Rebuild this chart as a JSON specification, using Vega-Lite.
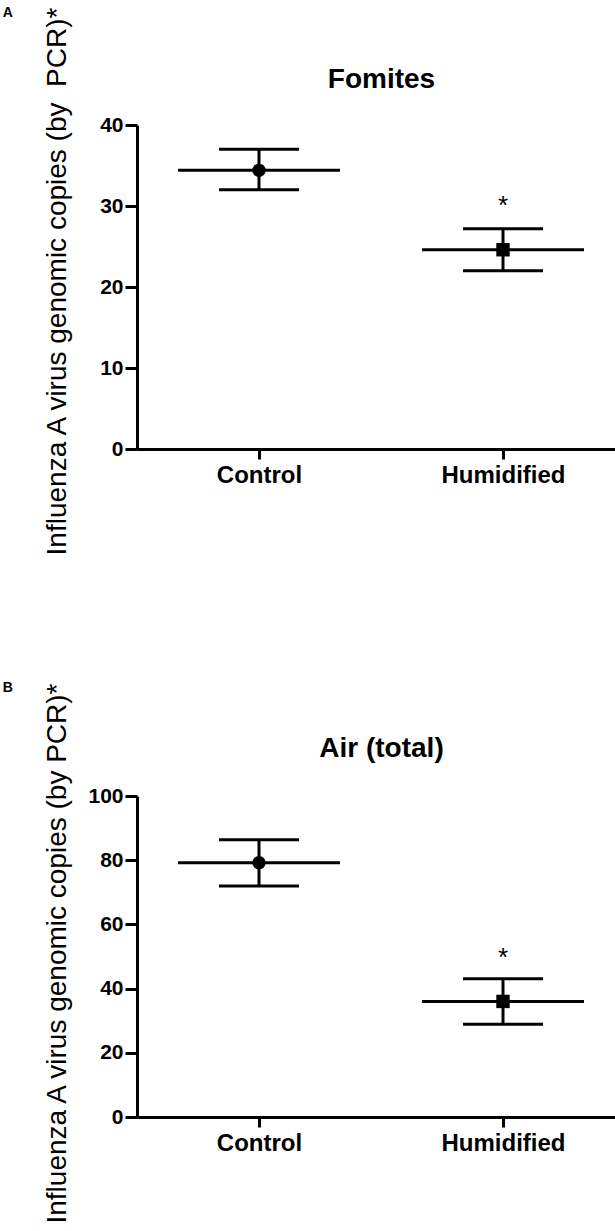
{
  "$schema": "https://vega.github.io/schema/vega-lite/v6.json",
  "background": "white",
  "padding": {"left": 2, "top": 5, "right": 0, "bottom": 0},
  "spacing": 124,
  "config": {"font": "Liberation Sans", "view": {"stroke": null}},
  "vconcat": [
    {
      "width": 488,
      "height": 324,
      "title": {"text": "A", "orient": "left", "anchor": "end", "angle": 0, "align": "right", "baseline": "top", "fontSize": 14, "fontWeight": "bold", "color": "black", "offset": 20, "frame": "bounds"},
      "data": {"values": [
        {"group": "Control", "mean": 34.4, "upper": 37.0, "lower": 32.0, "sig": ""},
        {"group": "Humidified", "mean": 24.6, "upper": 27.2, "lower": 22.0, "sig": "*"}
      ]},
      "resolve": {"axis": {"x": "independent", "y": "independent"}},
      "layer": [
        {
          "mark": {"type": "tick", "size": 162, "thickness": 3, "color": "black", "opacity": 1},
          "encoding": {
            "x": {"field": "group", "type": "nominal", "sort": ["Control", "Humidified"], "scale": {"type": "point", "padding": 0.5},
              "axis": {"title": null, "labelAngle": 0, "domainColor": "black", "domainWidth": 3, "tickColor": "black", "tickWidth": 3, "tickSize": 10, "labelFontSize": 24, "labelFontWeight": "bold", "labelColor": "black", "labelPadding": 4, "grid": false}},
            "y": {"field": "mean", "type": "quantitative", "scale": {"domain": [0, 40], "nice": false, "zero": true},
              "axis": {"title": "Influenza A virus genomic copies (by \u00a0PCR)*", "values": [0, 10, 20, 30, 40], "grid": false, "domainColor": "black", "domainWidth": 3, "tickColor": "black", "tickWidth": 3, "tickSize": 12, "labelFontSize": 21, "labelFontWeight": "bold", "labelColor": "black", "labelPadding": 2, "titleFontSize": 28, "titleFontWeight": "normal", "titleColor": "black", "titleX": -72, "titleY": 156, "titleBaseline": "alphabetic", "titleAnchor": "middle"}}
          }
        },
        {
          "mark": {"type": "tick", "size": 80, "thickness": 3, "color": "black", "opacity": 1},
          "encoding": {
            "x": {"field": "group", "type": "nominal", "sort": ["Control", "Humidified"], "scale": {"type": "point", "padding": 0.5}, "axis": null},
            "y": {"field": "upper", "type": "quantitative", "scale": {"domain": [0, 40], "nice": false}, "axis": null}
          }
        },
        {
          "mark": {"type": "tick", "size": 80, "thickness": 3, "color": "black", "opacity": 1},
          "encoding": {
            "x": {"field": "group", "type": "nominal", "sort": ["Control", "Humidified"], "scale": {"type": "point", "padding": 0.5}, "axis": null},
            "y": {"field": "lower", "type": "quantitative", "scale": {"domain": [0, 40], "nice": false}, "axis": null}
          }
        },
        {
          "mark": {"type": "rule", "strokeWidth": 3, "color": "black"},
          "encoding": {
            "x": {"field": "group", "type": "nominal", "sort": ["Control", "Humidified"], "scale": {"type": "point", "padding": 0.5}, "axis": null},
            "y": {"field": "lower", "type": "quantitative", "scale": {"domain": [0, 40], "nice": false}, "axis": null},
            "y2": {"field": "upper"}
          }
        },
        {
          "mark": {"type": "point", "filled": true, "size": 180, "color": "black", "opacity": 1},
          "encoding": {
            "x": {"field": "group", "type": "nominal", "sort": ["Control", "Humidified"], "scale": {"type": "point", "padding": 0.5},
              "axis": {"orient": "top", "domain": false, "ticks": false, "labels": false, "grid": false, "title": "Fomites", "titleFontSize": 28, "titleFontWeight": "bold", "titleColor": "black", "titleBaseline": "alphabetic", "titleY": -38}},
            "y": {"field": "mean", "type": "quantitative", "scale": {"domain": [0, 40], "nice": false}, "axis": null},
            "shape": {"field": "group", "type": "nominal", "scale": {"domain": ["Control", "Humidified"], "range": ["circle", "square"]}, "legend": null}
          }
        },
        {
          "mark": {"type": "text", "fontSize": 26, "color": "black", "baseline": "alphabetic", "dy": -15},
          "encoding": {
            "x": {"field": "group", "type": "nominal", "sort": ["Control", "Humidified"], "scale": {"type": "point", "padding": 0.5}, "axis": null},
            "y": {"field": "upper", "type": "quantitative", "scale": {"domain": [0, 40], "nice": false}, "axis": null},
            "text": {"field": "sig"}
          }
        }
      ]
    },
    {
      "width": 488,
      "height": 321,
      "title": {"text": "B", "orient": "left", "anchor": "end", "angle": 0, "align": "right", "baseline": "top", "fontSize": 14, "fontWeight": "bold", "color": "black", "offset": 20, "frame": "bounds"},
      "data": {"values": [
        {"group": "Control", "mean": 79.2, "upper": 86.4, "lower": 72.0, "sig": ""},
        {"group": "Humidified", "mean": 36.0, "upper": 43.1, "lower": 28.9, "sig": "*"}
      ]},
      "resolve": {"axis": {"x": "independent", "y": "independent"}},
      "layer": [
        {
          "mark": {"type": "tick", "size": 162, "thickness": 3, "color": "black", "opacity": 1},
          "encoding": {
            "x": {"field": "group", "type": "nominal", "sort": ["Control", "Humidified"], "scale": {"type": "point", "padding": 0.5},
              "axis": {"title": null, "labelAngle": 0, "domainColor": "black", "domainWidth": 3, "tickColor": "black", "tickWidth": 3, "tickSize": 10, "labelFontSize": 24, "labelFontWeight": "bold", "labelColor": "black", "labelPadding": 4, "grid": false}},
            "y": {"field": "mean", "type": "quantitative", "scale": {"domain": [0, 100], "nice": false, "zero": true},
              "axis": {"title": "Influenza A virus genomic copies (by PCR)*", "values": [0, 20, 40, 60, 80, 100], "grid": false, "domainColor": "black", "domainWidth": 3, "tickColor": "black", "tickWidth": 3, "tickSize": 12, "labelFontSize": 21, "labelFontWeight": "bold", "labelColor": "black", "labelPadding": 2, "titleFontSize": 28, "titleFontWeight": "normal", "titleColor": "black", "titleX": -72, "titleY": 157, "titleBaseline": "alphabetic", "titleAnchor": "middle"}}
          }
        },
        {
          "mark": {"type": "tick", "size": 80, "thickness": 3, "color": "black", "opacity": 1},
          "encoding": {
            "x": {"field": "group", "type": "nominal", "sort": ["Control", "Humidified"], "scale": {"type": "point", "padding": 0.5}, "axis": null},
            "y": {"field": "upper", "type": "quantitative", "scale": {"domain": [0, 100], "nice": false}, "axis": null}
          }
        },
        {
          "mark": {"type": "tick", "size": 80, "thickness": 3, "color": "black", "opacity": 1},
          "encoding": {
            "x": {"field": "group", "type": "nominal", "sort": ["Control", "Humidified"], "scale": {"type": "point", "padding": 0.5}, "axis": null},
            "y": {"field": "lower", "type": "quantitative", "scale": {"domain": [0, 100], "nice": false}, "axis": null}
          }
        },
        {
          "mark": {"type": "rule", "strokeWidth": 3, "color": "black"},
          "encoding": {
            "x": {"field": "group", "type": "nominal", "sort": ["Control", "Humidified"], "scale": {"type": "point", "padding": 0.5}, "axis": null},
            "y": {"field": "lower", "type": "quantitative", "scale": {"domain": [0, 100], "nice": false}, "axis": null},
            "y2": {"field": "upper"}
          }
        },
        {
          "mark": {"type": "point", "filled": true, "size": 180, "color": "black", "opacity": 1},
          "encoding": {
            "x": {"field": "group", "type": "nominal", "sort": ["Control", "Humidified"], "scale": {"type": "point", "padding": 0.5},
              "axis": {"orient": "top", "domain": false, "ticks": false, "labels": false, "grid": false, "title": "Air (total)", "titleFontSize": 28, "titleFontWeight": "bold", "titleColor": "black", "titleBaseline": "alphabetic", "titleY": -40}},
            "y": {"field": "mean", "type": "quantitative", "scale": {"domain": [0, 100], "nice": false}, "axis": null},
            "shape": {"field": "group", "type": "nominal", "scale": {"domain": ["Control", "Humidified"], "range": ["circle", "square"]}, "legend": null}
          }
        },
        {
          "mark": {"type": "text", "fontSize": 26, "color": "black", "baseline": "alphabetic", "dy": -13},
          "encoding": {
            "x": {"field": "group", "type": "nominal", "sort": ["Control", "Humidified"], "scale": {"type": "point", "padding": 0.5}, "axis": null},
            "y": {"field": "upper", "type": "quantitative", "scale": {"domain": [0, 100], "nice": false}, "axis": null},
            "text": {"field": "sig"}
          }
        }
      ]
    }
  ]
}
